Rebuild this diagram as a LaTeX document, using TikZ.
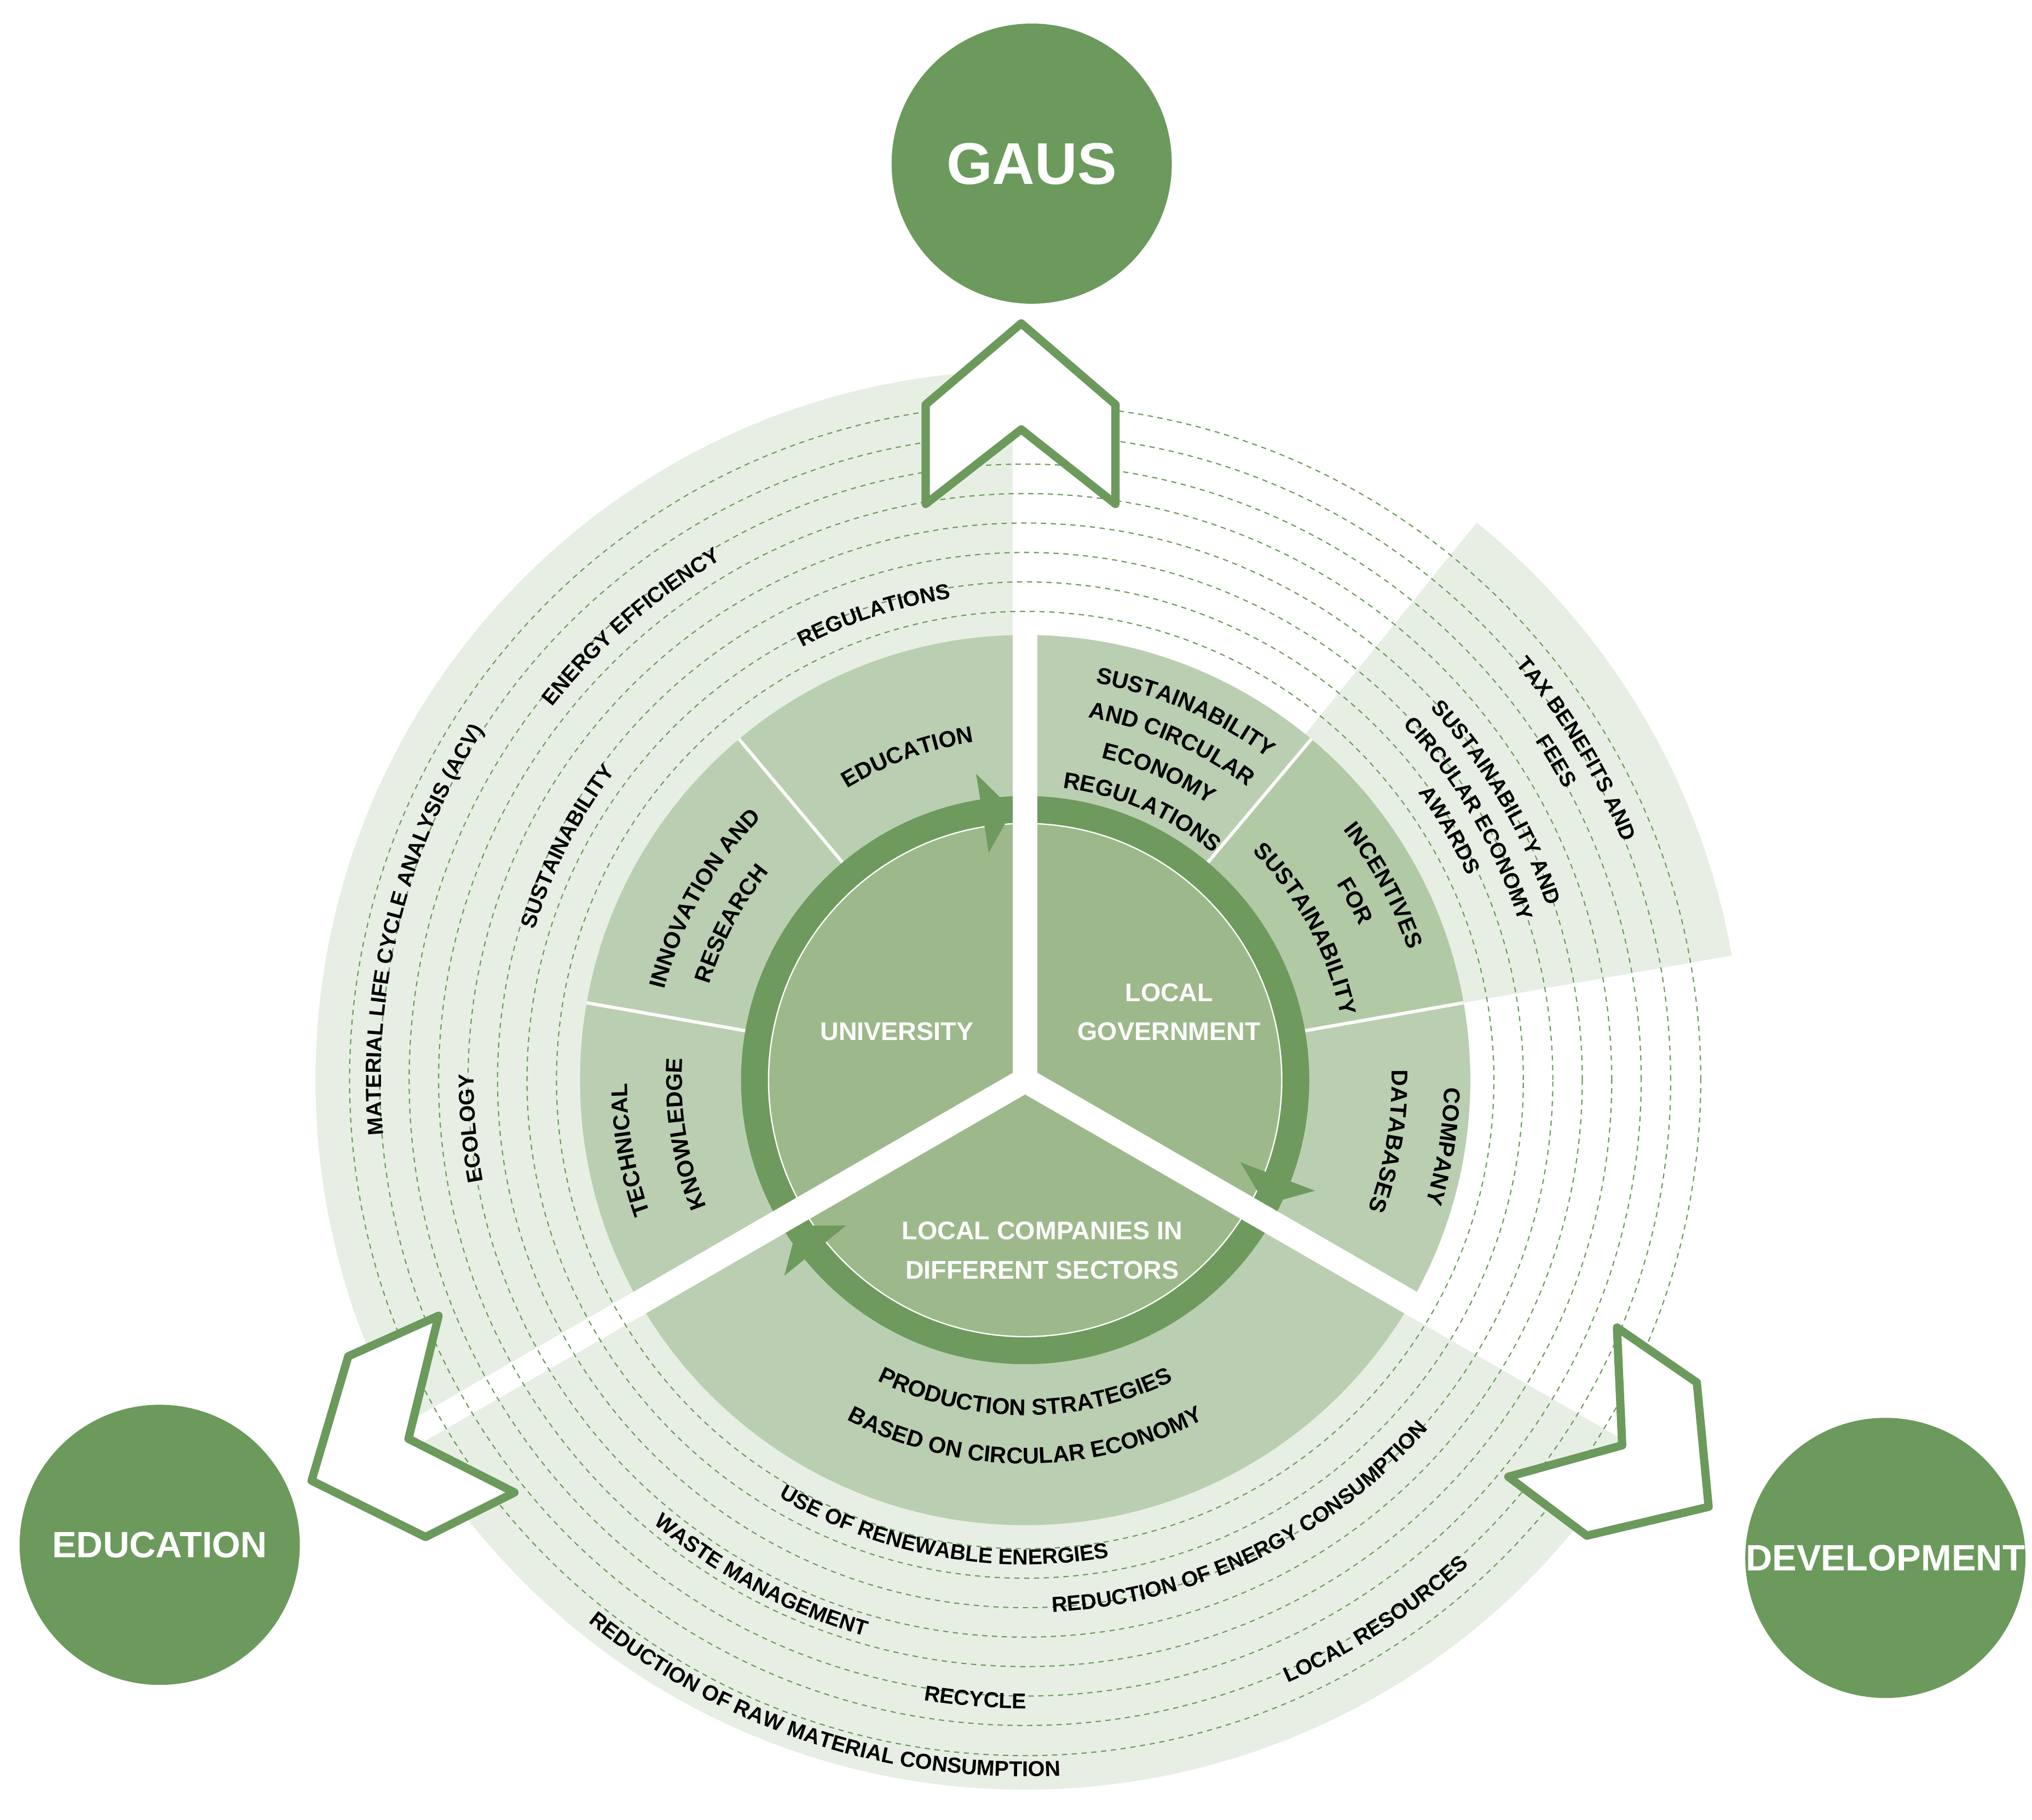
\documentclass[tikz,border=0pt]{standalone}
\usepackage{fontspec}
\setmainfont{Liberation Sans}
\usetikzlibrary{decorations.text}
\definecolor{dkg}{HTML}{6B9A5C}
\definecolor{ring}{HTML}{6E9A5E}
\definecolor{core}{HTML}{9DB98C}
\definecolor{mid}{HTML}{BACFB1}
\definecolor{midd}{HTML}{B2C9A6}
\definecolor{band}{HTML}{E7EFE4}
\definecolor{dshc}{HTML}{6B9A5C}
\newcommand\sfont{\bfseries\fontsize{17.5}{17.5}\selectfont}
\newcommand\ofont{\bfseries\fontsize{16.5}{16.5}\selectfont}
% clockwise arc text (letters outward): radius, angle, font, text
\newcommand\cwt[4]{\path[decorate,decoration={text along path,text align=center,text={|#3|#4}}] (#2+60:#1pt) arc[start angle=#2+60,end angle=#2-60,radius=#1pt];}
% counter-clockwise arc text (letters inward)
\newcommand\ccwt[4]{\path[decorate,decoration={text along path,text align=center,text={|#3|#4}}] (#2-60:#1pt) arc[start angle=#2-60,end angle=#2+60,radius=#1pt];}
\begin{document}
\begin{tikzpicture}[x=1pt,y=1pt,
  chev/.style={draw=dkg,fill=white,line width=6.3,line join=round},
  hub/.style={circle,fill=dkg,minimum size=214,inner sep=0,text=white,font=\bfseries\fontsize{28}{28}\selectfont},
  inlbl/.style={text=white,align=center,font=\bfseries\fontsize{19.5}{30}\selectfont},
  gap/.style={white,line width=19},
  sub/.style={white,line width=2.5},
  dsh/.style={draw=dshc,line width=0.9,dash pattern=on 4 off 3.5}]
\useasboundingbox (-783,-565) rectangle (769,825);
% outer band
\fill[band] (0,0) -- (90:542) arc[start angle=90,end angle=330,radius=542] -- cycle;
\fill[band] (0,0) -- (10:548) arc[start angle=10,end angle=51,radius=548] -- cycle;
% middle ring
\fill[mid] (0,0) circle[radius=340];
\fill[midd] (0,0) -- (10:340) arc[start angle=10,end angle=50,radius=340] -- cycle;
\foreach \a in {130,170,50,10} \draw[sub] (\a:217) -- (\a:340);
% arrow ring and core
\fill[ring] (0,0) circle[radius=217];
\fill[core] (0,0) circle[radius=196];
\draw[white,line width=1] (0,0) circle[radius=196];
% gaps
\foreach \a in {90,210,330} \draw[gap] (0,0) -- (\a:560);
% arrowheads
\foreach \t in {92.6,-27.4,212.6}
  \fill[ring] (\t+6.5:176) -- (\t:206.5) -- (\t+6.5:237) -- cycle;
% dashed circles
\foreach \r in {358,380.5,403,425.5,448,470.5,493,516} \draw[dsh] (0,0) circle[radius=\r];
% chevrons
\draw[chev] (-3,578) -- (-76,516) -- (-76,440) -- (-3,497) -- (69,440) -- (69,516) -- cycle;
\draw[chev] (-448,-180) -- (-517,-211) -- (-545,-306) -- (-458,-349) -- (-390,-315) -- (-471,-274) -- cycle;
\draw[chev] (452,-189) -- (513,-231) -- (522,-326) -- (429,-348) -- (369,-303) -- (456,-279) -- cycle;
% hubs
\node[hub,font=\bfseries\fontsize{45}{45}\selectfont] (gaus) at (5,700) {GAUS};
\node[hub] (edu) at (-661,-355) {EDUCATION};
\node[hub] (dev) at (657,-365) {DEVELOPMENT};
% inner labels
\node[inlbl] (uni) at (-98,37) {UNIVERSITY};
\node[inlbl] (gov) at (110,52) {LOCAL\\GOVERNMENT};
\node[inlbl] (comp) at (13,-130) {LOCAL COMPANIES IN\\DIFFERENT SECTORS};
% sector labels
\cwt{261}{110}{\sfont}{EDUCATION}
\cwt{284}{150.5}{\sfont}{INNOVATION AND}
\cwt{252}{152}{\sfont}{RESEARCH}
\cwt{304}{190}{\sfont}{TECHNICAL}
\cwt{262}{189}{\sfont}{KNOWLEDGE}
\cwt{308}{66.5}{\sfont}{SUSTAINABILITY}
\cwt{281}{66.5}{\sfont}{AND CIRCULAR}
\cwt{253}{66.5}{\sfont}{ECONOMY}
\cwt{225}{66.5}{\sfont}{REGULATIONS}
\cwt{309}{28.5}{\sfont}{INCENTIVES}
\cwt{281}{28.5}{\sfont}{FOR}
\cwt{246}{28.3}{\sfont}{SUSTAINABILITY}
\cwt{320}{-9}{\sfont}{COMPANY}
\cwt{280}{-9.5}{\sfont}{DATABASES}
\ccwt{256}{270}{\sfont}{PRODUCTION STRATEGIES}
\ccwt{293}{270}{\sfont}{BASED ON CIRCULAR ECONOMY}
% outer labels
\cwt{372}{108}{\ofont}{REGULATIONS}
\cwt{460}{131}{\ofont}{ENERGY EFFICIENCY}
\cwt{392}{153}{\ofont}{SUSTAINABILITY}
\cwt{492}{166}{\ofont}{MATERIAL LIFE CYCLE ANALYSIS (ACV)}
\cwt{421}{185}{\ofont}{ECOLOGY}
\cwt{491}{31}{\ofont}{TAX BENEFITS AND}
\cwt{468}{31}{\ofont}{FEES}
\cwt{420}{30.5}{\ofont}{SUSTAINABILITY AND}
\cwt{396}{30.5}{\ofont}{CIRCULAR ECONOMY}
\cwt{372}{30.5}{\ofont}{AWARDS}
\ccwt{370}{259.7}{\ofont}{USE OF RENEWABLE ENERGIES}
\ccwt{442}{242}{\ofont}{WASTE MANAGEMENT}
\ccwt{480}{265.4}{\ofont}{RECYCLE}
\ccwt{532}{252}{\ofont}{REDUCTION OF RAW MATERIAL CONSUMPTION}
\ccwt{407}{296}{\ofont}{REDUCTION OF ENERGY CONSUMPTION}
\ccwt{502}{303}{\ofont}{LOCAL RESOURCES}
\end{tikzpicture}
\end{document}
